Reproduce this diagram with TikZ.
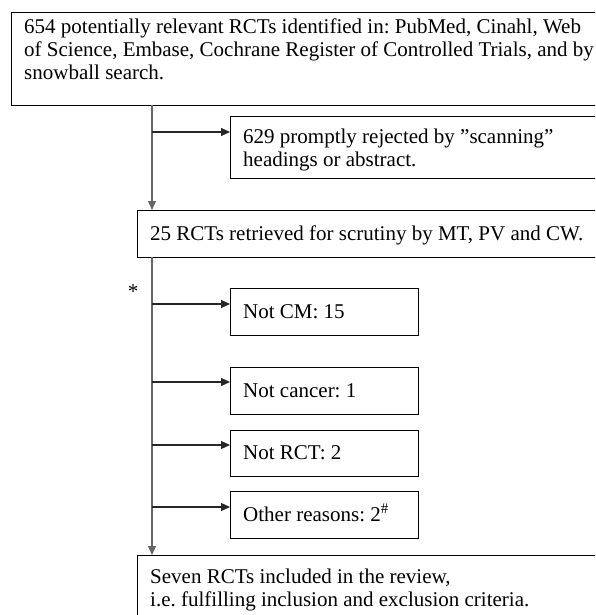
\documentclass[tikz,border=0pt]{standalone}
\usepackage{fontspec}
\setmainfont{Liberation Serif}
\usetikzlibrary{arrows.meta}
\frenchspacing
\begin{document}
\begin{tikzpicture}[x=1pt,y=-1pt,
  box/.style={draw=black, line width=1.3pt, anchor=north west, inner sep=0pt},
  txt/.style={anchor=base west, inner sep=0pt, font=\frenchspacing\fontsize{21}{23}\selectfont, align=left},
  arr/.style={draw=black!85, line width=1.1pt, -{Triangle[length=9pt,width=8pt]}},
  varr/.style={draw=black!60, line width=1.2pt, -{Triangle[length=9pt,width=8pt]}}]
\useasboundingbox (0,0) rectangle (595,615);
\fill[white] (0,0) rectangle (595,615);
\clip (0,0) rectangle (595,615);

% boxes
\node[box, minimum width=600pt, minimum height=93pt]  (b1)   at (11,12)  {};
\node[box, minimum width=380pt, minimum height=62pt]  (b629) at (230,116) {};
\node[box, minimum width=470pt, minimum height=47pt]  (b25)  at (137,210) {};
\node[box, minimum width=188pt, minimum height=47pt]  (bcm)  at (230,288) {};
\node[box, minimum width=188pt, minimum height=47pt]  (bca)  at (230,367) {};
\node[box, minimum width=188pt, minimum height=46pt]  (brct) at (230,430) {};
\node[box, minimum width=188pt, minimum height=47pt]  (both) at (230,491) {};
\node[box, minimum width=470pt, minimum height=100pt] (bfin) at (137,555) {};

% texts (base anchor = baseline of the last line)
\node[txt] (t1) at (24,80) {654 potentially relevant RCTs identified in: PubMed, Cinahl, Web\\of Science, Embase, Cochrane Register of Controlled Trials, and by\\snowball search.};
\node[txt] (t629) at (243,166) {629 promptly rejected by ”scanning”\\headings or abstract.};
\node[txt] (t25) at (150,240) {25 RCTs retrieved for scrutiny by MT, PV and CW.};
\node[txt] (tcm) at (243,318) {Not CM: 15};
\node[txt] (tca) at (243,397) {Not cancer: 1};
\node[txt] (trct) at (243,459) {Not RCT: 2};
\node[txt] (toth) at (243,521) {Other reasons: 2\textsuperscript{\#}};
\node[txt] (tfin) at (150,606) {Seven RCTs included in the review,\\i.e. fulfilling inclusion and exclusion criteria.};
\node[txt, anchor=center] (star) at (133,292) {*};

% connectors
\coordinate (v1) at (152,105);
\coordinate (v2) at (152,257);
\draw[varr] (v1) -- (v1 |- b25.north);
\draw[varr] (v2) -- (v2 |- bfin.north);
\draw[arr] (v1 |- b629.north west) ++(0,16) -- ([yshift=-16pt]b629.north west);
\draw[arr] (v2 |- bcm.north west) ++(0,16) -- ([yshift=-16pt]bcm.north west);
\draw[arr] (v2 |- bca.north west) ++(0,15) -- ([yshift=-15pt]bca.north west);
\draw[arr] (v2 |- brct.north west) ++(0,15) -- ([yshift=-15pt]brct.north west);
\draw[arr] (v2 |- both.north west) ++(0,16) -- ([yshift=-16pt]both.north west);
\end{tikzpicture}
\end{document}
